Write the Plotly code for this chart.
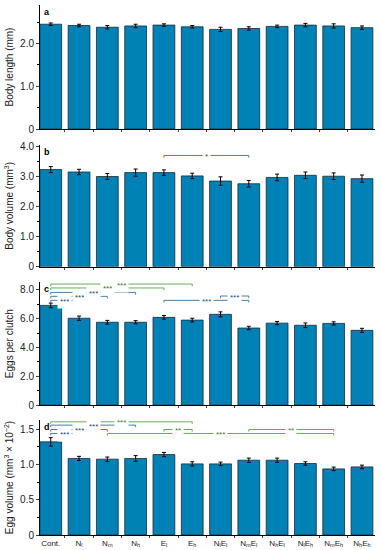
import plotly.graph_objects as go
from plotly.subplots import make_subplots

categories = ["Cont.", "N<sub>l</sub>", "N<sub>m</sub>", "N<sub>h</sub>", "E<sub>l</sub>", "E<sub>h</sub>",
              "N<sub>l</sub>E<sub>l</sub>", "N<sub>m</sub>E<sub>l</sub>", "N<sub>h</sub>E<sub>l</sub>",
              "N<sub>l</sub>E<sub>h</sub>", "N<sub>m</sub>E<sub>h</sub>", "N<sub>h</sub>E<sub>h</sub>"]

body_length = [2.45, 2.42, 2.38, 2.41, 2.43, 2.39, 2.33, 2.35, 2.40, 2.43, 2.41, 2.37]
body_length_err = [0.03, 0.03, 0.04, 0.04, 0.03, 0.03, 0.05, 0.04, 0.03, 0.04, 0.05, 0.04]

body_volume = [3.23, 3.15, 3.00, 3.13, 3.13, 3.02, 2.85, 2.76, 2.97, 3.04, 3.01, 2.93]
body_volume_err = [0.10, 0.09, 0.10, 0.12, 0.09, 0.09, 0.14, 0.11, 0.11, 0.11, 0.11, 0.12]

eggs_per_clutch = [6.92, 6.03, 5.75, 5.75, 6.09, 5.90, 6.30, 5.35, 5.69, 5.54, 5.67, 5.19]
eggs_per_clutch_err = [0.16, 0.15, 0.13, 0.11, 0.13, 0.13, 0.17, 0.12, 0.11, 0.16, 0.11, 0.14]

egg_volume = [1.32, 1.085, 1.075, 1.085, 1.14, 1.008, 1.008, 1.06, 1.06, 1.013, 0.937, 0.965]
egg_volume_err = [0.06, 0.03, 0.03, 0.04, 0.03, 0.03, 0.025, 0.03, 0.03, 0.025, 0.025, 0.025]

# significance comparisons: (start index, end index, y level, label, colour key)
sig_b = [(4, 7, 3.70, "*", "blue")]
sig_c = [(0, 5, 8.40, "***", "green"), (0, 4, 8.13, "***", "green"),
         (0, 3, 7.82, "***", "blue"), (0, 2, 7.55, "***", "blue"),
         (0, 1, 7.27, "***", "blue"), (4, 7, 7.27, "***", "blue"),
         (6, 7, 7.57, "***", "blue")]
sig_d = [(0, 5, 1.604, "***", "green"), (0, 3, 1.557, "***", "blue"),
         (0, 2, 1.495, "***", "blue"), (0, 1, 1.439, "***", "blue"),
         (4, 5, 1.495, "**", "green"), (7, 10, 1.495, "**", "green"),
         (2, 10, 1.439, "***", "green")]

line_colors = {"green": "#6aac58", "blue": "#4a7fab"}
text_colors = {"green": "#3f7a32", "blue": "#234f82"}
bar_color = "#0082b6"
FONT = "Liberation Sans, Arial, sans-serif"

fig = make_subplots(rows=4, cols=1)

panels = [
    (body_length, body_length_err, "Body length (mm)", [0, 2.9], [0, 1, 2], ["0", "1.0", "2.0"], "a", [], 0.5),
    (body_volume, body_volume_err, "Body volume (mm<sup>3</sup>)", [0, 4.05], [0, 1, 2, 3, 4],
     ["0", "1.0", "2.0", "3.0", "4.0"], "b", sig_b, 0.5),
    (eggs_per_clutch, eggs_per_clutch_err, "Eggs per clutch", [0, 8.53], [0, 2, 4, 6, 8],
     ["0", "2.0", "4.0", "6.0", "8.0"], "c", sig_c, 1.0),
    (egg_volume, egg_volume_err, "Egg volume (mm<sup>3</sup> × 10<sup>−2</sup>)", [0, 1.63], [0, 0.5, 1.0, 1.5],
     ["0", "0.5", "1.0", "1.5"], "d", sig_d, 0.25),
]

domains = [[0.766, 1.0], [0.506, 0.736], [0.245, 0.477], [0.0, 0.217]]

for i, (vals, errs, title, yr, tv, tt, letter, sigs, minor) in enumerate(panels):
    r = i + 1
    fig.add_trace(go.Bar(
        x=categories, y=vals, width=0.77,
        marker=dict(color=bar_color, line=dict(color="#1a2a33", width=0.8)),
        error_y=dict(type="data", array=errs, color="black", thickness=1, width=2),
        showlegend=False), row=r, col=1)
    fig.update_yaxes(range=yr, tickvals=tv, ticktext=tt, ticks="outside", ticklen=3,
                     showline=True, linecolor="black", linewidth=1, showgrid=False, zeroline=False,
                     title=dict(text=title, font=dict(size=10, family=FONT, color="#222"), standoff=4),
                     tickfont=dict(size=10, family=FONT, color="#222"),
                     minor=dict(dtick=minor, ticks="outside", ticklen=2, tickcolor="black"),
                     domain=domains[i], automargin=False, row=r, col=1)
    fig.update_xaxes(type="category", range=[-0.38, 11.46], tickson="boundaries", ticks="outside", ticklen=2,
                     showline=True, linecolor="black", linewidth=1, showgrid=False,
                     showticklabels=(r == 4), tickangle=0, automargin=False,
                     tickfont=dict(size=8, family=FONT, color="#222"),
                     row=r, col=1)
    xref = "x" if r == 1 else f"x{r}"
    yref = "y" if r == 1 else f"y{r}"
    fig.add_annotation(text=f"<b>{letter}</b>", xref=f"{xref} domain", yref=f"{yref} domain",
                       x=0.005, y=1.0, xanchor="left", yanchor="top", showarrow=False,
                       font=dict(size=9, family=FONT, color="black"))
    tick = (yr[1] - yr[0]) * 0.018
    for (s, e, y, lab, ck) in sigs:
        fig.add_shape(type="path", xref=xref, yref=yref,
                      path=f"M {s},{y - tick} L {s},{y} L {e},{y} L {e},{y - tick}",
                      line=dict(color=line_colors[ck], width=1))
        fig.add_annotation(x=(s + e) / 2, y=y, xref=xref, yref=yref, text=lab, showarrow=False,
                           bgcolor="white", borderpad=2, yshift=-1,
                           font=dict(size=8, family=FONT, color=text_colors[ck]))

fig.update_layout(width=381, height=550, margin=dict(l=40, r=6, t=5, b=15),
                  plot_bgcolor="white", paper_bgcolor="white", bargap=0.23)

fig.write_html("out.html", config={"displayModeBar": False},
               post_script="document.body.style.margin='0';document.body.style.overflow='hidden';")
